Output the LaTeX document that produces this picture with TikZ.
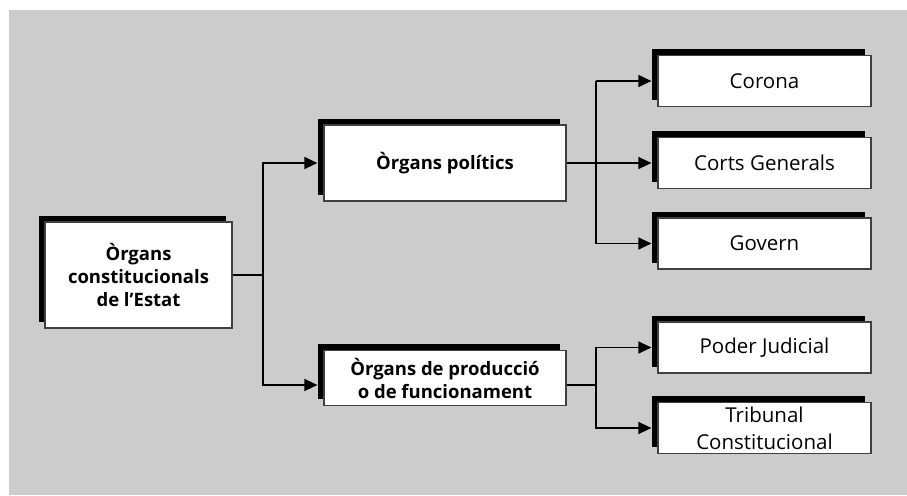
\documentclass[tikz,border=0pt]{standalone}
\usepackage{fontspec}
\setmainfont{Open Sans}
\usetikzlibrary{arrows.meta,positioning,shadows}

\begin{document}
\begin{tikzpicture}[
		x=1pt, y=-1pt,
		box/.style={
				draw=black!75, line width=1.2pt, fill=white,
				general shadow={fill=black, draw=none, shadow xshift=-6.5pt, shadow yshift=6.5pt},
				align=center, inner sep=0pt
			},
		main/.style={box, font=\fontsize{18.5}{23}\selectfont\bfseries},
		leaf/.style={box, minimum width=213pt, minimum height=51pt,
				font=\fontsize{20.5}{27}\selectfont},
		arr/.style={-{Triangle[length=13pt,width=12pt]}, line width=1.3pt},
		link/.style={line width=1.3pt}
	]

	% Background
	\useasboundingbox (0,0) rectangle (907,495);
	\fill[black!20] (9,10) rectangle (907,495);

	% Boxes
	\node[main, minimum width=187pt, minimum height=106pt] (organs) at (138.5,275)
	{Òrgans\\constitucionals\\de l’Estat};
	\node[main, minimum width=242pt, minimum height=76pt] (pol) at (445,163) {Òrgans polítics};
	\node[main, minimum width=242pt, minimum height=55pt] (prod) at (445,378)
	{Òrgans de producció\\o de funcionament};

	\node[leaf] (corona) at (764.5,81)    {Corona};
	\node[leaf] (corts)  at (764.5,163)   {Corts Generals};
	\node[leaf] (govern) at (764.5,243.5) {Govern};
	\node[leaf] (poder)  at (764.5,347.5) {Poder Judicial};
	\node[leaf] (trib)   at (764.5,428)   {Tribunal\\Constitucional};

	% Branch points
	\coordinate (split)  at (263,0);
	\coordinate (split2) at (596,0);

	% Root -> middle
	\draw[arr] (organs.east) -| (split |- pol.west) -- ([xshift=-6pt]pol.west);
	\draw[arr] (split |- organs.east) |- ([xshift=-6pt,yshift=-7pt]prod.west);

	% Òrgans polítics -> leaves
	\draw[arr] (pol.east) -- ([xshift=-6pt]corts.west);
	\draw[link] (split2 |- corona.west) -- (split2 |- govern.west);
	\draw[arr] (split2 |- corona.west) -- ([xshift=-6pt]corona.west);
	\draw[arr] (split2 |- govern.west) -- ([xshift=-6pt]govern.west);

	% Òrgans de producció -> leaves
	\draw[arr] ([yshift=-7pt]prod.east) -| (split2 |- poder.west) -- ([xshift=-6pt]poder.west);
	\draw[arr] (split2 |- poder.west) |- ([xshift=-6pt]trib.west);

\end{tikzpicture}
\end{document}
